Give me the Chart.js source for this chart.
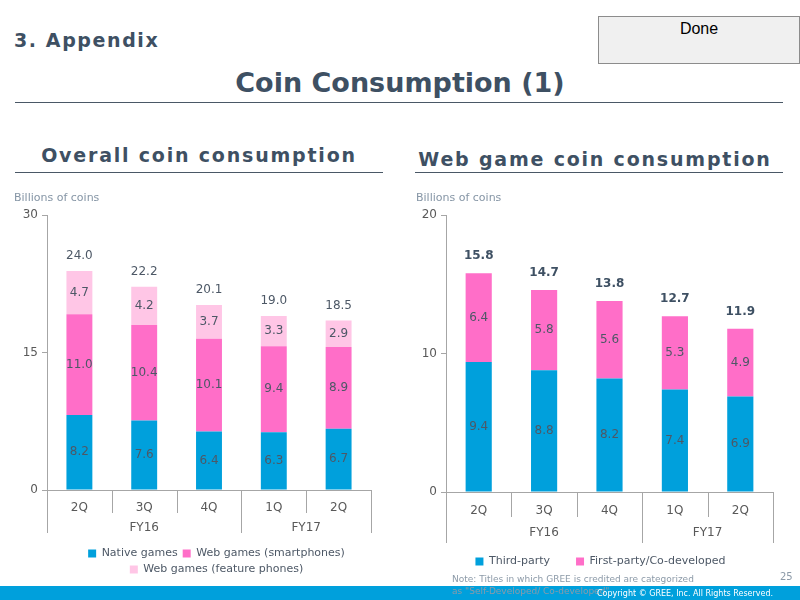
<!DOCTYPE html>
<html>
<head>
<meta charset="utf-8">
<script src="https://cdn.jsdelivr.net/npm/chart.js@4/dist/chart.umd.min.js"></script>
<style>
  body { margin: 0; width: 800px; height: 600px; position: relative; background: #fff; font-family: 'DejaVu Sans', sans-serif; overflow: hidden; }
  .abs { position: absolute; }
  .head { color: #3e5063; font-weight: bold; white-space: nowrap; }
  .rule { position: absolute; height: 1px; background: #4a5866; }
</style>
</head>
<body>
<div class="abs head" style="left:14px; top:29px; font-size:19px; letter-spacing:1.6px;">3. Appendix</div>
<div class="abs" style="left:598px; top:16px; width:200px; height:46px; background:#f0f0f0; border:1px solid #8c8c8c;"></div>
<div class="abs" style="left:598px; top:20px; width:202px; text-align:center; font-family:'Liberation Sans', sans-serif; font-size:16px; color:#000;">Done</div>
<div class="abs head" style="left:0; width:800px; top:67px; text-align:center; font-size:27px;">Coin Consumption (1)</div>
<div class="rule" style="left:15px; top:102px; width:768px;"></div>

<div class="abs head" style="left:15px; width:368px; top:144px; text-align:center; font-size:19px; letter-spacing:1.8px;">Overall coin consumption</div>
<div class="rule" style="left:15px; top:172px; width:368px;"></div>
<div class="abs head" style="left:411px; width:368px; top:148px; text-align:center; font-size:19px; letter-spacing:1.8px;">Web game coin consumption</div>
<div class="rule" style="left:415px; top:172px; width:368px;"></div>

<canvas id="overallChart" class="abs" style="left:8px; top:188px;" width="380" height="397"></canvas>
<canvas id="webChart" class="abs" style="left:410px; top:188px;" width="380" height="395"></canvas>

<div class="abs" style="left:0; top:586px; width:800px; height:14px; background:#00a0dc;"></div>
<div class="abs" style="left:452px; top:573px; font-size:9px; color:#8c9aa8; line-height:12px;">Note: Titles in which GREE is credited are categorized<br>as "Self-Developed/ Co-developed"</div>
<div class="abs" style="left:780px; top:571px; font-size:10px; color:#8c9aa8;">25</div>
<div class="abs" style="left:597px; top:589px; font-size:8px; color:#fff;">Copyright © GREE, Inc. All Rights Reserved.</div>

<script>
// categories
const quarters = ['2Q', '3Q', '4Q', '1Q', '2Q'];
const fiscalYears = ['FY16', 'FY17'];
const yearSizes = [3, 2];

// overall coin consumption (billions of coins)
const nativeGames = [8.2, 7.6, 6.4, 6.3, 6.7];
const webSmartphones = [11.0, 10.4, 10.1, 9.4, 8.9];
const webFeaturePhones = [4.7, 4.2, 3.7, 3.3, 2.9];
const overallTotals = [24.0, 22.2, 20.1, 19.0, 18.5];

// web game coin consumption (billions of coins)
const thirdParty = [9.4, 8.8, 8.2, 7.4, 6.9];
const firstParty = [6.4, 5.8, 5.6, 5.3, 4.9];
const webTotals = [15.8, 14.7, 13.8, 12.7, 11.9];

const BLUE = '#00a0dc';
const PINK = '#ff6ec8';
const LIGHT_PINK = '#ffc6e6';
const FONT = 'DejaVu Sans';
const AXIS_GRAY = '#a6a6a6';

// draws the segment values and the totals above each stack
const barLabels = {
  id: 'barLabels',
  afterDatasetsDraw(chart, args, opts) {
    const ctx = chart.ctx;
    ctx.save();
    ctx.textAlign = 'center';
    ctx.textBaseline = 'middle';
    ctx.font = '12px ' + FONT;
    ctx.fillStyle = '#4d5866';
    chart.data.datasets.forEach((ds, di) => {
      const meta = chart.getDatasetMeta(di);
      meta.data.forEach((bar, i) => {
        ctx.fillText(ds.data[i].toFixed(1), bar.x, (bar.y + bar.base) / 2);
      });
    });
    const last = chart.getDatasetMeta(chart.data.datasets.length - 1);
    ctx.font = (opts.bold ? 'bold ' : '') + '12px ' + FONT;
    ctx.fillStyle = opts.bold ? '#3e5063' : '#4d5866';
    last.data.forEach((bar, i) => {
      ctx.fillText(opts.totals[i].toFixed(1), bar.x, bar.y - opts.offset);
    });
    ctx.restore();
  }
};

// separators and fiscal year row under the quarter labels
const groupAxis = {
  id: 'groupAxis',
  afterLayout(chart, args, opts) {
    // the legend sits a bit right of the plot's centre in the original
    chart.legend.left += opts.legendShift;
    chart.legend.right += opts.legendShift;
  },
  afterDraw(chart, args, opts) {
    const x = chart.scales.x;
    const ctx = chart.ctx;
    const n = chart.data.labels.length;
    const w = x.getPixelForValue(1) - x.getPixelForValue(0);
    const start = x.getPixelForValue(0) - w / 2;
    const edges = [0];
    yearSizes.forEach(s => edges.push(edges[edges.length - 1] + s));
    ctx.save();
    ctx.strokeStyle = AXIS_GRAY;
    ctx.lineWidth = 1;
    for (let i = 0; i <= n; i++) {
      const px = Math.round(start + i * w) + 0.5;
      const len = edges.includes(i) ? opts.longTick : opts.shortTick;
      ctx.beginPath();
      ctx.moveTo(px, x.top);
      ctx.lineTo(px, x.top + len);
      ctx.stroke();
    }
    ctx.fillStyle = '#595959';
    ctx.font = '12px ' + FONT;
    ctx.textAlign = 'center';
    ctx.textBaseline = 'middle';
    fiscalYears.forEach((fy, g) => {
      const mid = start + (edges[g] + edges[g + 1]) / 2 * w;
      ctx.fillText(fy, mid, x.top + opts.yearOffset);
    });
    ctx.restore();
  }
};

function makeOptions(cfg) {
  return {
    responsive: false,
    animation: false,
    layout: { padding: { top: 2, right: 17, bottom: cfg.bottomPad, left: 6 } },
    datasets: { bar: { barPercentage: 0.4, categoryPercentage: 1 } },
    scales: {
      x: {
        stacked: true,
        grid: { display: false },
        border: { color: AXIS_GRAY },
        ticks: { color: '#595959', font: { family: FONT, size: 12 }, padding: cfg.tickPad },
        afterFit: s => { s.height = cfg.xHeight; }
      },
      y: {
        stacked: true,
        min: 0,
        max: cfg.maxY,
        ticks: { stepSize: cfg.step, color: '#595959', font: { family: FONT, size: 12 }, padding: 4 },
        grid: { drawOnChartArea: false, tickLength: 5, color: AXIS_GRAY },
        border: { color: AXIS_GRAY },
        afterFit: s => { s.width = cfg.yWidth; }
      }
    },
    plugins: {
      title: {
        display: true,
        text: 'Billions of coins',
        align: 'start',
        color: '#8595a5',
        font: { family: FONT, size: 11, weight: 'normal' },
        padding: { top: 2, bottom: 10 }
      },
      legend: {
        position: 'bottom',
        labels: {
          boxWidth: 8,
          boxHeight: 8,
          padding: cfg.legendPad,
          color: '#4d5866',
          font: { family: FONT, size: 11 }
        }
      },
      tooltip: { enabled: false },
      barLabels: { totals: cfg.totals, bold: cfg.bold, offset: cfg.offset },
      groupAxis: { shortTick: cfg.shortTick, longTick: cfg.longTick, yearOffset: cfg.yearOffset, legendShift: cfg.legendShift }
    }
  };
}

new Chart(document.getElementById('overallChart'), {
  type: 'bar',
  data: {
    labels: quarters,
    datasets: [
      { label: 'Native games', data: nativeGames, backgroundColor: BLUE },
      { label: 'Web games (smartphones)', data: webSmartphones, backgroundColor: PINK },
      { label: 'Web games (feature phones)', data: webFeaturePhones, backgroundColor: LIGHT_PINK }
    ]
  },
  options: makeOptions({
    maxY: 30, step: 15, totals: overallTotals, bold: false, offset: 15,
    legendPad: 5, xHeight: 53, bottomPad: 0, tickPad: 3, yWidth: 33,
    shortTick: 23, longTick: 43, yearOffset: 38, legendShift: 24
  }),
  plugins: [barLabels, groupAxis]
});

new Chart(document.getElementById('webChart'), {
  type: 'bar',
  data: {
    labels: quarters,
    datasets: [
      { label: 'Third-party', data: thirdParty, backgroundColor: BLUE },
      { label: 'First-party/Co-developed', data: firstParty, backgroundColor: PINK }
    ]
  },
  options: makeOptions({
    maxY: 20, step: 10, totals: webTotals, bold: true, offset: 17,
    legendPad: 26, xHeight: 38, bottomPad: 6, tickPad: 4, yWidth: 30,
    shortTick: 25, longTick: 51, yearOffset: 41, legendShift: 6
  }),
  plugins: [barLabels, groupAxis]
});
</script>
</body>
</html>
